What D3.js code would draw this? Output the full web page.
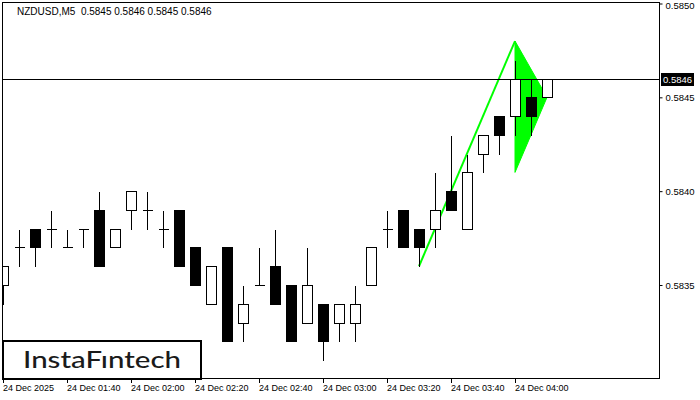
<!DOCTYPE html>
<html>
<head>
<meta charset="utf-8">
<script src="https://cdn.jsdelivr.net/npm/d3@7"></script>
<style>
  html, body { margin: 0; padding: 0; background: #fff; }
  svg { display: block; }
  text { font-family: "Liberation Sans", Arial, sans-serif; }
</style>
</head>
<body>
<svg id="chart" width="700" height="400"></svg>
<script>
// ---- data ----
const symbolTitle = "NZDUSD,M5  0.5845 0.5846 0.5845 0.5846";
const opens  = [0.5835,0.5837,0.5838,0.5838,0.5837,0.5838,0.5839,0.5837,0.5839,0.5839,0.5838,0.5839,0.5837,0.5834,0.5837,0.5833,0.5835,0.5836,0.5835,0.5833,0.5834,0.5833,0.5833,0.5835,0.5838,0.5839,0.5838,0.5838,0.5840,0.5838,0.5842,0.5844,0.5844,0.5845,0.5845];
const highs  = [0.5836,0.5838,0.5838,0.5839,0.5838,0.5838,0.5840,0.5838,0.5840,0.5840,0.5839,0.5839,0.5837,0.5836,0.5837,0.5835,0.5837,0.5838,0.5835,0.5837,0.5834,0.5834,0.5835,0.5837,0.5839,0.5839,0.5838,0.5841,0.5843,0.5842,0.5843,0.5844,0.5847,0.5846,0.5846];
const lows   = [0.5834,0.5836,0.5836,0.5837,0.5837,0.5837,0.5836,0.5837,0.5838,0.5838,0.5837,0.5836,0.5835,0.5834,0.5832,0.5832,0.5835,0.5834,0.5832,0.5833,0.5831,0.5832,0.5832,0.5835,0.5837,0.5837,0.5836,0.5837,0.5839,0.5838,0.5841,0.5842,0.5843,0.5843,0.5845];
const closes = [0.5836,0.5837,0.5837,0.5838,0.5837,0.5838,0.5836,0.5838,0.5840,0.5839,0.5838,0.5836,0.5835,0.5836,0.5832,0.5834,0.5835,0.5834,0.5832,0.5835,0.5832,0.5834,0.5834,0.5837,0.5838,0.5837,0.5837,0.5839,0.5839,0.5841,0.5843,0.5843,0.5846,0.5844,0.5846];
const timeTickIndex  = [0, 4, 8, 12, 16, 20, 24, 28, 32];
const timeTickLabels = ["24 Dec 2025","24 Dec 01:40","24 Dec 02:00","24 Dec 02:20","24 Dec 02:40","24 Dec 03:00","24 Dec 03:20","24 Dec 03:40","24 Dec 04:00"];
const priceTicks = [0.5835, 0.5840, 0.5845, 0.5850];
const currentPrice = 0.5846;
const poleIdx = [26, 32];
const polePrice = [0.5836, 0.5848];
const flagIdx = [32, 34, 32];
const flagPrice = [0.5848, 0.5845, 0.5841];
const logoText = "InstaFıntech";

// ---- layout ----
const svg = d3.select("#chart");
const plot = { left: 2.5, top: 2.5, right: 659.5, bottom: 378.5 };

const x = d3.scaleLinear().domain([0, 34]).range([3, 547]);
const y = d3.scaleLinear().domain([0.5835, 0.5850]).range([285, 3.5]);
const py = p => Math.round(y(p)) + 0.5;

svg.append("defs").append("clipPath").attr("id", "plotclip")
  .append("rect").attr("x", plot.left).attr("y", plot.top)
  .attr("width", plot.right - plot.left).attr("height", plot.bottom - plot.top);

const g = svg.append("g").attr("clip-path", "url(#plotclip)");

// pennant flag (filled triangle)
const flagPts = flagIdx.map((d, i) => [x(d), y(flagPrice[i])]);
g.append("path")
  .attr("d", d3.line()(flagPts) + "Z")
  .attr("fill", "#00ff00").attr("stroke", "#00ff00").attr("stroke-width", 1);

// pole
g.append("path")
  .attr("d", d3.line()(poleIdx.map((d, i) => [x(d), y(polePrice[i])])))
  .attr("stroke", "#00ff00").attr("stroke-width", 2).attr("fill", "none");

// current price line
g.append("line")
  .attr("x1", plot.left).attr("x2", plot.right)
  .attr("y1", py(currentPrice)).attr("y2", py(currentPrice))
  .attr("stroke", "#000").attr("stroke-width", 1);

// candles
const idx = d3.range(opens.length);
const cg = g.append("g").attr("shape-rendering", "crispEdges");
idx.forEach(i => {
  const cx = Math.round(x(i)) + 0.5;
  const o = opens[i], c = closes[i], h = highs[i], l = lows[i];
  cg.append("line").attr("x1", cx).attr("x2", cx)
    .attr("y1", py(h)).attr("y2", py(l)).attr("stroke", "#000");
  if (o === c) {
    cg.append("line").attr("x1", cx - 5).attr("x2", cx + 5)
      .attr("y1", py(o)).attr("y2", py(o)).attr("stroke", "#000");
  } else {
    const top = py(Math.max(o, c)), bot = py(Math.min(o, c));
    cg.append("rect").attr("x", cx - 5).attr("y", top)
      .attr("width", 10).attr("height", bot - top)
      .attr("fill", c > o ? "#fff" : "#000").attr("stroke", "#000");
  }
});

// frame
svg.append("rect").attr("x", plot.left).attr("y", plot.top)
  .attr("width", plot.right - plot.left).attr("height", plot.bottom - plot.top)
  .attr("fill", "none").attr("stroke", "#000").attr("shape-rendering", "crispEdges");

// right price axis
const yAxis = d3.axisRight(y).tickValues(priceTicks).tickFormat(d3.format(".4f"))
  .tickSize(3).tickPadding(3);
const ya = svg.append("g").attr("transform", `translate(${plot.right},0)`).call(yAxis);
ya.select(".domain").remove();
ya.selectAll("text").attr("font-size", "9.5px").attr("fill", "#000")
  .attr("y", d => Math.max(0, 5 - y(d)) + 0.5)
  .style("font-family", "'Liberation Sans', Arial, sans-serif");
ya.selectAll("line").attr("stroke", "#000");

// current price label
const cpy = py(currentPrice);
svg.append("rect").attr("x", 661).attr("y", cpy - 6.5).attr("width", 33).attr("height", 13).attr("fill", "#000");
svg.append("text").attr("x", 663).attr("y", cpy + 3.5).attr("font-size", "9.5px")
  .attr("fill", "#fff").text(d3.format(".4f")(currentPrice));

// bottom time axis
const xa = svg.append("g");
timeTickIndex.forEach((ti, k) => {
  const tx = Math.round(x(ti)) + 0.5;
  xa.append("line").attr("x1", tx).attr("x2", tx).attr("y1", plot.bottom).attr("y2", plot.bottom + 4)
    .attr("stroke", "#000").attr("shape-rendering", "crispEdges");
  xa.append("text").attr("x", tx - 0.5).attr("y", 391).attr("font-size", "9px")
    .attr("fill", "#000").text(timeTickLabels[k]);
});

// title
svg.append("text").attr("x", 17).attr("y", 14.5).attr("font-size", "10px")
  .attr("fill", "#000").attr("xml:space", "preserve").style("white-space", "pre").text(symbolTitle);

// logo
svg.append("rect").attr("x", 3).attr("y", 341).attr("width", 198).attr("height", 38)
  .attr("fill", "#fff").attr("stroke", "#000").attr("stroke-width", 2);
svg.append("text").attr("x", 23).attr("y", 367.5).attr("font-size", "23px")
  .style("font-family", "Lato, 'Open Sans', sans-serif").attr("font-weight", 500)
  .attr("fill", "#1a1a1a").attr("textLength", 158).attr("lengthAdjust", "spacingAndGlyphs")
  .text(logoText);
</script>
</body>
</html>
